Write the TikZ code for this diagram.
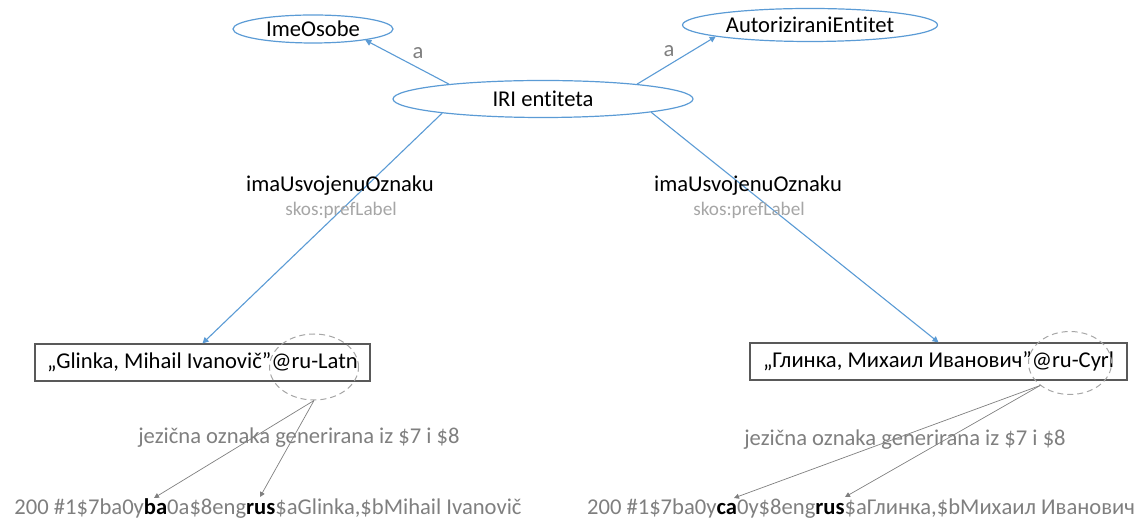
\documentclass[tikz,border=0pt]{standalone}
\usepackage{fontspec}
\setmainfont{Carlito}[Ligatures=NoCommon]
\usepackage{tikz}
\usetikzlibrary{arrows.meta, positioning, shapes.geometric}
\definecolor{linkblue}{HTML}{5B9BD5}
\definecolor{notegray}{HTML}{7F7F7F}
\definecolor{softgray}{HTML}{A6A6A6}
\definecolor{boxgray}{HTML}{595959}
\newcommand{\mainsize}{\fontsize{11.3}{13}\selectfont}
\newcommand{\hl}[1]{\textbf{\color{black}#1}}
\tikzset{
    class/.style={ellipse, draw=linkblue, line width=0.6pt, inner sep=0pt, font=\mainsize},
    literal/.style={rectangle, draw=boxgray, line width=0.6pt, inner sep=0pt, minimum height=18.5pt, font=\mainsize},
    link/.style={->, >={Triangle[length=3pt, width=3pt]}, linkblue, line width=0.55pt},
    source/.style={->, >={Triangle[length=2.5pt, width=2.5pt]}, notegray, line width=0.35pt},
    langtag/.style={ellipse, draw=softgray, dashed, dash pattern=on 3pt off 2pt, line width=0.5pt, inner sep=0pt},
    note/.style={text=notegray, font=\mainsize, inner sep=0pt}
}

\begin{document}
\begin{tikzpicture}[x=0.5pt, y=-0.5pt]
    \useasboundingbox (0,0) rectangle (1138,522);
    % classes and the entity
    \node[class, minimum width=80pt, minimum height=14pt] (ime) at (313,29) {ImeOsobe};
    \node[class, minimum width=127.5pt, minimum height=16.5pt] (auto) at (810,25) {AutoriziraniEntitet};
    \node[class, minimum width=150pt, minimum height=18.5pt] (iri) at (543,99) {IRI entiteta};
    \draw[link] (iri.171) -- (ime.-12);
    \draw[link] (iri.9) -- (auto.187);
    \node[note] (aL) at (418,53) {a};
    \node[note] (aR) at (669,51) {a};
    % preferred labels
    \node[literal, minimum width=167.5pt] (lat) at (202.5,362.5) {„Glinka, Mihail Ivanovič”@ru-Latn};
    \node[literal, minimum width=188.5pt] (cyr) at (938.5,361.5) {„Глинка, Михаил Иванович”@ru-Cyrl};
    \draw[link] (iri.188) -- (lat.north);
    \draw[link] (iri.-7) -- (cyr.north);
    \node[font=\mainsize, inner sep=0pt] (propL) at (340,186) {imaUsvojenuOznaku};
    \node[text=softgray, font=\fontsize{9.6}{11}\selectfont, inner sep=0pt] (skosL) at (341,210) {skos:prefLabel};
    \node[font=\mainsize, inner sep=0pt] (propR) at (748,186) {imaUsvojenuOznaku};
    \node[text=softgray, font=\fontsize{9.6}{11}\selectfont, inner sep=0pt] (skosR) at (749,210) {skos:prefLabel};
    % language tags from the record
    \node[langtag, minimum width=44.5pt, minimum height=33pt] (tagL) at (314,367) {};
    \node[langtag, minimum width=41.5pt, minimum height=31.5pt] (tagR) at (1070,363) {};
    \node[note] (genL) at (299,438) {jezična oznaka generirana iz \$7 i \$8};
    \node[note] (genR) at (905,440) {jezična oznaka generirana iz \$7 i \$8};
    \node[note] (recL) at (268,509) {200 \#1\$7ba0y\hl{ba}0a\$8eng\hl{rus}\$aGlinka,\$bMihail Ivanovič};
    \node[note] (recR) at (861,509) {200 \#1\$7ba0y\hl{ca}0y\$8eng\hl{rus}\$aГлинка,\$bМихаил Иванович};
    \coordinate (baL) at (154,498);
    \coordinate (rusL) at (260,497);
    \coordinate (caR) at (734,498);
    \coordinate (rusR) at (845,497);
    \draw[source] (tagL.south) -- (baL);
    \draw[source] (tagL.south) -- (rusL);
    \draw[source] (tagR.217) -- (caR);
    \draw[source] (tagR.217) -- (rusR);
\end{tikzpicture}
\end{document}
